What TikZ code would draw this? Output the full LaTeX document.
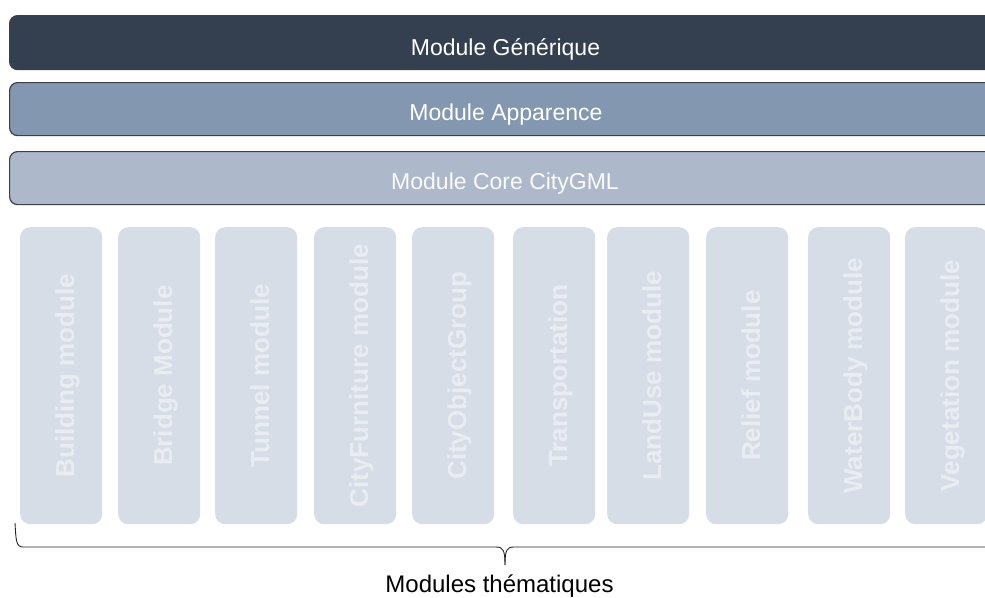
\documentclass[tikz,border=0pt]{standalone}
\usepackage{fontspec}
\setmainfont{Liberation Sans}
\definecolor{barA}{HTML}{343F50}
\definecolor{barB}{HTML}{8397B0}
\definecolor{barC}{HTML}{ADB9CA}
\definecolor{modbox}{HTML}{D6DDE6}
\definecolor{modtxt}{HTML}{E9EDF2}
\definecolor{barline}{HTML}{3C3F44}
\begin{document}
\begin{tikzpicture}[x=1pt,y=-1pt,
  bar/.style={draw=barline,line width=1.2pt,rounded corners=8pt,minimum width=992pt,minimum height=54pt,anchor=north west,inner sep=0pt},
  bartext/.style={anchor=base,inner sep=0pt,text=white,font=\fontsize{23}{27}\selectfont},
  modbox/.style={fill=modbox,rounded corners=10pt,minimum width=82pt,minimum height=297pt,anchor=north west,inner sep=0pt},
  modlabel/.style={rotate=90,anchor=base,inner sep=0pt,text=modtxt,font=\fontsize{26}{30}\selectfont\bfseries}]
\useasboundingbox (0,0) rectangle (985,597);
\fill[white] (0,0) rectangle (985,597);
\node[bar,fill=barA] (gen) at (9,15) {};
\node[bar,fill=barB,minimum height=53pt] (app) at (9,82) {};
\node[bar,fill=barC,minimum height=53pt] (core) at (9,151) {};
\node[bartext] (gent) at (505.5,55) {Module Générique};
\node[bartext] (appt) at (506,120.5) {Module Apparence};
\node[bartext,text=white!95!barC] (coret) at (505,189) {Module Core CityGML};
\foreach \x/\n/\t in {20/m1/Building module,118/m2/Bridge Module,215/m3/Tunnel module,314/m4/CityFurniture module,412/m5/CityObjectGroup,513/m6/Transportation,607/m7/LandUse module,706/m8/Relief module,808/m9/WaterBody module,905/m10/Vegetation module}{
  \node[modbox] (\n) at (\x,227) {};
  \node[modlabel] (\n t) at ([xshift=13pt]\n.center) {\t};
}
\coordinate (bl) at (15,523);
\coordinate (tip) at (505,565);
\draw[line width=0.9pt,black!85] (bl) .. controls (16,540) and (16,547) .. (23,547) -- (496,547) .. controls (503,547) and (505,550) .. (tip);
\draw[line width=0.9pt,black!85] (tip) .. controls (505,550) and (507,547) .. (514,547) -- (1000,547);
\node[font=\fontsize{24}{28}\selectfont,inner sep=0pt,anchor=base] (lab) at (499.5,592) {Modules thématiques};
\end{tikzpicture}
\end{document}
